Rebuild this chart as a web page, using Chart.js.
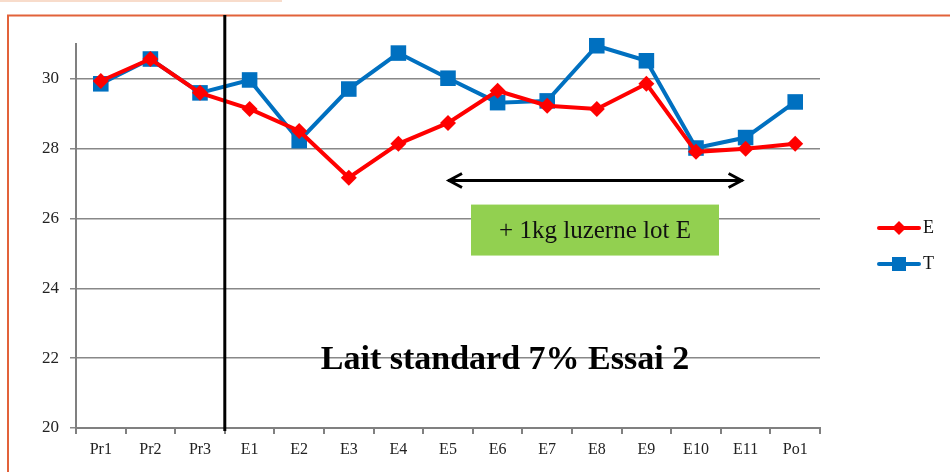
<!DOCTYPE html>
<html><head><meta charset="utf-8">
<script src="https://cdn.jsdelivr.net/npm/chart.js@4/dist/chart.umd.min.js"></script>
<style>html,body{margin:0;padding:0;background:#fff}#wrap{width:950px;height:472px;position:relative}</style>
</head><body><div id="wrap"><canvas id="c" width="950" height="472"></canvas></div>
<script>
const categories = ['Pr1','Pr2','Pr3','E1','E2','E3','E4','E5','E6','E7','E8','E9','E10','E11','Po1'];
const seriesE = [29.94,30.57,29.6,29.14,28.51,27.17,28.14,28.74,29.66,29.23,29.14,29.86,27.91,28.0,28.14];
const seriesT = [29.86,30.57,29.6,29.97,28.23,29.71,30.74,30.02,29.32,29.37,30.95,30.52,28.02,28.32,29.34];
const yTicks = [20,22,24,26,28,30];
const titleText = 'Lait standard 7% Essai 2';
const boxText = '+ 1kg luzerne lot E';
const serif = '"Liberation Serif", "DejaVu Serif", serif';

const overlay = {
  id: 'overlay',
  beforeDraw(chart) {
    const ctx = chart.ctx;
    ctx.save();
    ctx.fillStyle = '#fff';
    ctx.fillRect(0,0,chart.width,chart.height);
    ctx.fillStyle = '#F8DCCB';
    ctx.fillRect(0,0,282,2);
    ctx.strokeStyle = '#E2623A';
    ctx.lineWidth = 2;
    ctx.beginPath();
    ctx.moveTo(8,472); ctx.lineTo(8,15.5); ctx.lineTo(950,15.5);
    ctx.stroke();
    ctx.restore();
  },
  afterDatasetsDraw(chart) {
    const ctx = chart.ctx, x = chart.scales.x, y = chart.scales.y, ca = chart.chartArea;
    ctx.save();
    const xs = (x.getPixelForValue(2) + x.getPixelForValue(3)) / 2;
    ctx.strokeStyle = '#000'; ctx.lineWidth = 3;
    ctx.beginPath(); ctx.moveTo(xs, 15); ctx.lineTo(xs, ca.bottom + 3); ctx.stroke();
    const ay = y.getPixelForValue(27.09);
    const ax1 = x.getPixelForValue(7), ax2 = x.getPixelForValue(13) - 3;
    ctx.lineWidth = 3; ctx.lineJoin = 'miter';
    ctx.beginPath(); ctx.moveTo(ax1, ay); ctx.lineTo(ax2, ay); ctx.stroke();
    ctx.beginPath(); ctx.moveTo(ax1 + 14, ay - 7); ctx.lineTo(ax1 + 1, ay); ctx.lineTo(ax1 + 14, ay + 7); ctx.stroke();
    ctx.beginPath(); ctx.moveTo(ax2 - 14, ay - 7); ctx.lineTo(ax2 - 1, ay); ctx.lineTo(ax2 - 14, ay + 7); ctx.stroke();
    const bx1 = 471, bx2 = 719;
    const by1 = y.getPixelForValue(26.4), by2 = y.getPixelForValue(24.94);
    ctx.fillStyle = '#92D050';
    ctx.fillRect(bx1, by1, bx2 - bx1, by2 - by1);
    ctx.fillStyle = '#111';
    ctx.font = '25px ' + serif;
    ctx.textAlign = 'center'; ctx.textBaseline = 'middle';
    ctx.fillText(boxText, (bx1 + bx2) / 2, (by1 + by2) / 2 + 1);
    ctx.font = 'bold 34px ' + serif;
    ctx.fillStyle = '#000';
    ctx.fillText(titleText, 505, y.getPixelForValue(21.95));
    const items = [['E', '#FF0000', 'diamond', 228], ['T', '#0070C0', 'square', 264]];
    ctx.font = '18px ' + serif;
    ctx.textAlign = 'left';
    for (const [lab, col, shape, ly] of items) {
      ctx.strokeStyle = col; ctx.lineWidth = 4; ctx.lineCap = 'round';
      ctx.beginPath(); ctx.moveTo(879, ly); ctx.lineTo(919, ly); ctx.stroke();
      ctx.fillStyle = col;
      if (shape === 'diamond') {
        ctx.beginPath(); ctx.moveTo(899, ly - 7); ctx.lineTo(906, ly); ctx.lineTo(899, ly + 7); ctx.lineTo(892, ly); ctx.closePath(); ctx.fill();
      } else {
        ctx.fillRect(892, ly - 7, 14, 14);
      }
      ctx.fillStyle = '#111';
      ctx.fillText(lab, 923, ly);
    }
    ctx.restore();
  }
};

new Chart(document.getElementById('c'), {
  type: 'line',
  data: {
    labels: categories,
    datasets: [
      { label: 'E', data: seriesE, borderColor: '#FF0000', backgroundColor: '#FF0000', borderWidth: 4, clip: false,
        pointStyle: 'rectRot', pointRadius: 8, pointHoverRadius: 8, pointBorderWidth: 0, tension: 0 },
      { label: 'T', data: seriesT, borderColor: '#0070C0', backgroundColor: '#0070C0', borderWidth: 4, clip: false,
        pointStyle: 'rect', pointRadius: 11, pointHoverRadius: 11, pointBorderWidth: 0, tension: 0 }
    ]
  },
  options: {
    responsive: false, animation: false, devicePixelRatio: 1,
    layout: { padding: { left: 0, right: 130, top: 44, bottom: 0 } },
    plugins: { legend: { display: false }, tooltip: { enabled: false } },
    scales: {
      x: {
        offset: true,
        grid: { offset: true, drawOnChartArea: false, drawTicks: true, tickLength: 6, color: '#808080', lineWidth: 2 },
        border: { color: '#808080', width: 2 },
        ticks: { font: { family: serif, size: 16 }, color: '#222', padding: 6, maxRotation: 0, autoSkip: false },
        afterFit(s) { s.height = 44; }
      },
      y: {
        min: 20, max: 31,
        afterBuildTicks(s) { s.ticks = yTicks.map(v => ({ value: v })); },
        grid: { color: '#888', lineWidth: 1.5, tickLength: 6, drawTicks: true },
        border: { color: '#808080', width: 2 },
        ticks: { font: { family: serif, size: 17 }, color: '#222', padding: 11 },
        afterFit(s) { s.width = 76; }
      }
    }
  },
  plugins: [overlay]
});
</script></body></html>
